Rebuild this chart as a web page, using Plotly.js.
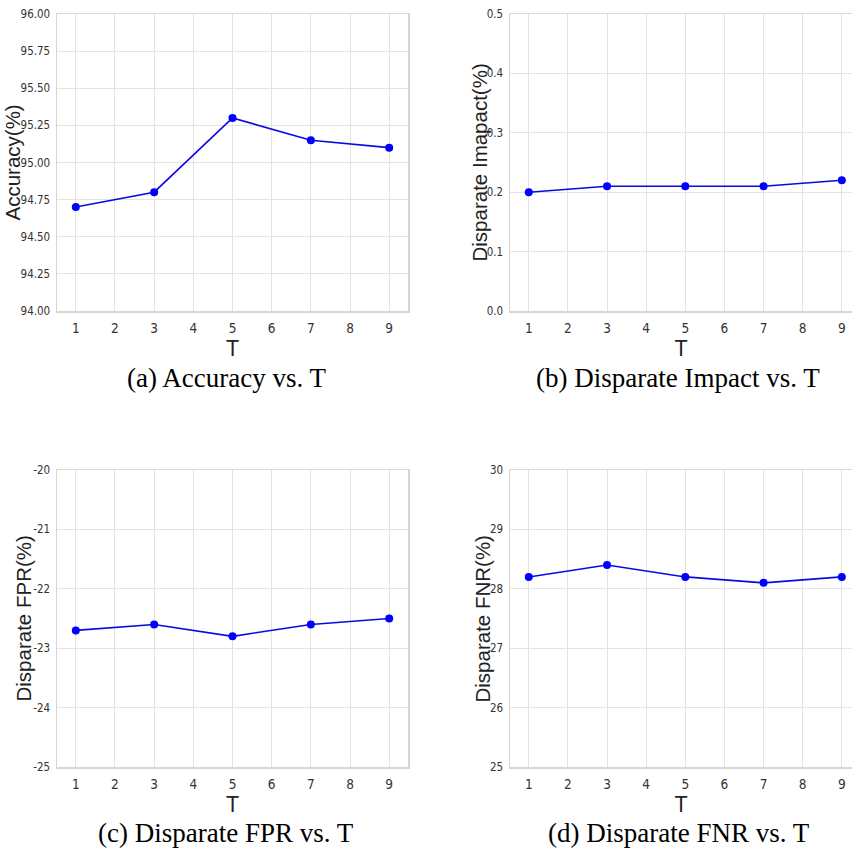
<!DOCTYPE html>
<html>
<head>
<meta charset="utf-8">
<script src="https://cdn.plot.ly/plotly-3.0.1.min.js"></script>
<style>
  html, body { margin: 0; padding: 0; background: #fff; }
  #chart { width: 852px; height: 851px; }
</style>
</head>
<body>
<div id="chart"></div>
<script>
// Effect of T on accuracy and fairness metrics
const T = [1, 3, 5, 7, 9];
const accuracy = [94.70, 94.80, 95.30, 95.15, 95.10];
const disparateImpact = [0.20, 0.21, 0.21, 0.21, 0.22];
const disparateFPR = [-22.7, -22.6, -22.8, -22.6, -22.5];
const disparateFNR = [28.2, 28.4, 28.2, 28.1, 28.2];

const xTickVals = [1, 2, 3, 4, 5, 6, 7, 8, 9];
const accTicks = [94.00, 94.25, 94.50, 94.75, 95.00, 95.25, 95.50, 95.75, 96.00];
const accTickText = ['94.00', '94.25', '94.50', '94.75', '95.00', '95.25', '95.50', '95.75', '96.00'];
const diTicks = [0.0, 0.1, 0.2, 0.3, 0.4, 0.5];
const diTickText = ['0.0', '0.1', '0.2', '0.3', '0.4', '0.5'];
const fprTicks = [-25, -24, -23, -22, -21, -20];
const fprTickText = ['-25', '-24', '-23', '-22', '-21', '-20'];
const fnrTicks = [25, 26, 27, 28, 29, 30];
const fnrTickText = ['25', '26', '27', '28', '29', '30'];

const yTitles = ['Accuracy(%)', 'Disparate Imapact(%)', 'Disparate FPR(%)', 'Disparate FNR(%)'];
const captions = ['(a) Accuracy vs. T', '(b) Disparate Impact vs. T',
                  '(c) Disparate FPR vs. T', '(d) Disparate FNR vs. T'];

const W = 852, H = 851;
const px = v => v / W;
const py = v => 1 - v / H;

// panel boxes in pixels: [left, right, top, bottom]
const boxes = [
  [57, 408, 14, 311],
  [510, 852, 14, 311],
  [57, 408, 470, 767],
  [510, 852, 470, 767]
];
const xRanges = [[0.52, 9.48], [0.52, 9.26], [0.52, 9.48], [0.52, 9.26]];
const yAxes = [
  { range: [94, 96], tickvals: accTicks, ticktext: accTickText },
  { range: [0, 0.5], tickvals: diTicks, ticktext: diTickText },
  { range: [-25, -20], tickvals: fprTicks, ticktext: fprTickText },
  { range: [25, 30], tickvals: fnrTicks, ticktext: fnrTickText }
];
const series = [accuracy, disparateImpact, disparateFPR, disparateFNR];
const titleX = [12, 479, 23, 482];
const captionPos = [[226, 378], [678, 378], [226, 833], [679, 833]];

const narrow = '"Liberation Sans Narrow", "Arial Narrow", "DejaVu Sans Condensed", sans-serif';
const tickFont = { family: narrow, size: 11.5, color: '#333' };

const data = series.map((ys, i) => ({
  x: T, y: ys,
  xaxis: 'x' + (i ? i + 1 : ''), yaxis: 'y' + (i ? i + 1 : ''),
  mode: 'lines+markers',
  line: { color: '#0a0ae0', width: 1.6 },
  marker: { color: '#0000ff', size: 8 },
  cliponaxis: false,
  showlegend: false,
  hoverinfo: 'x+y'
}));

const layout = {
  width: W, height: H,
  margin: { l: 0, r: 0, t: 0, b: 0 },
  paper_bgcolor: '#fff', plot_bgcolor: '#fff',
  showlegend: false,
  annotations: []
};

boxes.forEach((b, i) => {
  const sfx = i ? String(i + 1) : '';
  layout['xaxis' + sfx] = {
    domain: [px(b[0]), px(b[1])],
    anchor: 'y' + sfx,
    range: xRanges[i],
    tickmode: 'array', tickvals: xTickVals,
    showgrid: true, gridcolor: '#e3e3e3', gridwidth: 1,
    showline: true, linecolor: '#d6d6d6', linewidth: 1.5, mirror: true,
    zeroline: false, ticks: '', ticklabelstandoff: 4,
    tickfont: Object.assign({}, tickFont, { size: 13.5 }),
    title: { text: 'T', standoff: 0, font: { family: narrow, size: 22, color: '#222' } }
  };
  layout['yaxis' + sfx] = Object.assign({
    domain: [py(b[3]), py(b[2])],
    anchor: 'x' + sfx,
    tickmode: 'array',
    showgrid: true, gridcolor: '#e3e3e3', gridwidth: 1,
    showline: true, linecolor: '#d6d6d6', linewidth: 1.5, mirror: true,
    zeroline: false, ticks: '', ticklabelstandoff: 3,
    tickfont: tickFont
  }, yAxes[i]);

  layout.annotations.push({
    xref: 'paper', yref: 'paper',
    x: px(titleX[i]), y: py((b[2] + b[3]) / 2),
    xanchor: 'center', yanchor: 'middle',
    text: yTitles[i], textangle: -90, showarrow: false,
    font: { family: '"Liberation Sans", Arial, sans-serif', size: 20.5, color: '#222' }
  });
  layout.annotations.push({
    xref: 'paper', yref: 'paper',
    x: px(captionPos[i][0]), y: py(captionPos[i][1]),
    xanchor: 'center', yanchor: 'middle',
    text: captions[i], showarrow: false,
    font: { family: '"Liberation Serif", "Times New Roman", serif', size: 27, color: '#000' }
  });
});

Plotly.newPlot('chart', data, layout, { displayModeBar: false, staticPlot: true });
</script>
</body>
</html>
